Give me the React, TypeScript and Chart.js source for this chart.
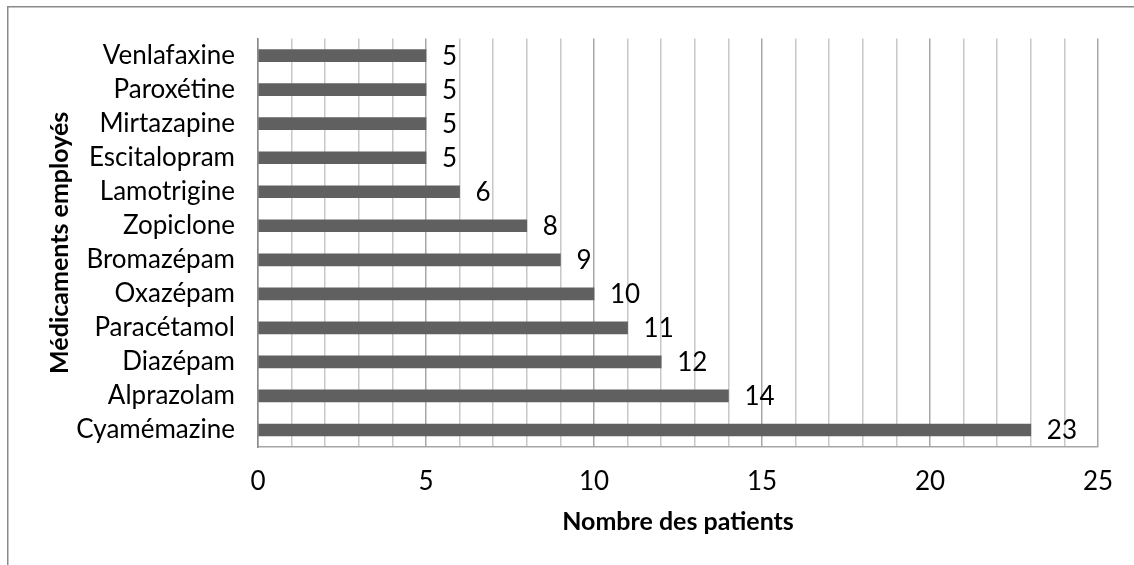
import React, { useEffect, useRef } from "react";
import { Chart, registerables } from "chart.js";

Chart.register(...registerables);

const categories = [
  "Cyamémazine",
  "Alprazolam",
  "Diazépam",
  "Paracétamol",
  "Oxazépam",
  "Bromazépam",
  "Zopiclone",
  "Lamotrigine",
  "Escitalopram",
  "Mirtazapine",
  "Paroxétine",
  "Venlafaxine",
];
const patients = [23, 14, 12, 11, 10, 9, 8, 6, 5, 5, 5, 5];
const xTickValues = [0, 5, 10, 15, 20, 25];
const xTitle = "Nombre des patients";
const yTitle = "Médicaments employés";

const FONT = "Lato, 'Open Sans', sans-serif";

const framePlugin = {
  id: "frame",
  beforeDraw(chart: any) {
    const ctx = chart.ctx;
    ctx.save();
    ctx.fillStyle = "#ffffff";
    ctx.fillRect(0, 0, chart.width, chart.height);
    ctx.strokeStyle = "#8a8a8a";
    ctx.lineWidth = 1.5;
    ctx.strokeRect(7.75, 6.75, chart.width + 20, chart.height + 20);
    ctx.restore();
  },
};

const valueLabelPlugin = {
  id: "valueLabels",
  afterDatasetsDraw(chart: any) {
    const ctx = chart.ctx;
    const meta = chart.getDatasetMeta(0);
    ctx.save();
    ctx.fillStyle = "#000000";
    ctx.font = `26px ${FONT}`;
    ctx.textAlign = "left";
    ctx.textBaseline = "middle";
    meta.data.forEach((bar: any, i: number) => {
      ctx.fillText(String(patients[i]), bar.x + 16, bar.y + 1);
    });
    ctx.restore();
  },
};

export default function App() {
  const ref = useRef<HTMLCanvasElement | null>(null);

  useEffect(() => {
    if (!ref.current) return;
    const chart = new Chart(ref.current, {
      type: "bar",
      data: {
        labels: categories,
        datasets: [
          {
            data: patients,
            backgroundColor: "#606060",
            borderWidth: 0,
            barThickness: 12,
          },
        ],
      },
      plugins: [framePlugin, valueLabelPlugin],
      options: {
        indexAxis: "y",
        animation: false,
        responsive: false,
        maintainAspectRatio: false,
        devicePixelRatio: 1,
        layout: { padding: { left: 0, right: 36, top: 36, bottom: 0 } },
        plugins: {
          legend: { display: false },
          tooltip: { enabled: false },
        },
        scales: {
          x: {
            type: "linear",
            min: 0,
            max: 25,
            afterBuildTicks: (scale: any) => {
              const t = [];
              for (let v = 0; v <= 25; v++) t.push({ value: v });
              scale.ticks = t;
            },
            afterFit: (scale: any) => {
              scale.height = 118;
            },
            ticks: {
              autoSkip: false,
              maxRotation: 0,
              padding: 19,
              color: "#000000",
              font: { family: FONT, size: 26 },
              callback: (v: any) => (xTickValues.includes(Number(v)) ? String(v) : ""),
            },
            grid: {
              drawTicks: false,
              color: (c: any) =>
                c.tick && c.tick.value % 5 === 0 ? "#a6a6a6" : "#c8c8c8",
              lineWidth: 1.5,
            },
            border: { display: true, color: "#a6a6a6", width: 1.5 },
            title: {
              display: true,
              text: xTitle,
              color: "#000000",
              font: { family: FONT, size: 25, weight: "bold" },
              padding: { top: 0, bottom: 28 },
            },
          },
          y: {
            reverse: true,
            afterFit: (scale: any) => {
              scale.width = 258;
            },
            ticks: {
              autoSkip: false,
              padding: 23,
              color: "#000000",
              font: { family: FONT, size: 26 },
            },
            grid: { display: false, drawTicks: false },
            border: { display: true, color: "#8a8a8a", width: 1.5 },
            title: {
              display: true,
              text: yTitle,
              color: "#000000",
              font: { family: FONT, size: 25, weight: "bold" },
              padding: { top: 45, bottom: 0 },
            },
          },
        },
      } as any,
    });
    return () => chart.destroy();
  }, []);

  return (
    <div
      style={{
        position: "fixed",
        left: 0,
        top: 0,
        width: 1134,
        height: 565,
        overflow: "hidden",
        background: "#fff",
      }}
    >
      <canvas ref={ref} width={1134} height={565} style={{ display: "block" }} />
    </div>
  );
}
